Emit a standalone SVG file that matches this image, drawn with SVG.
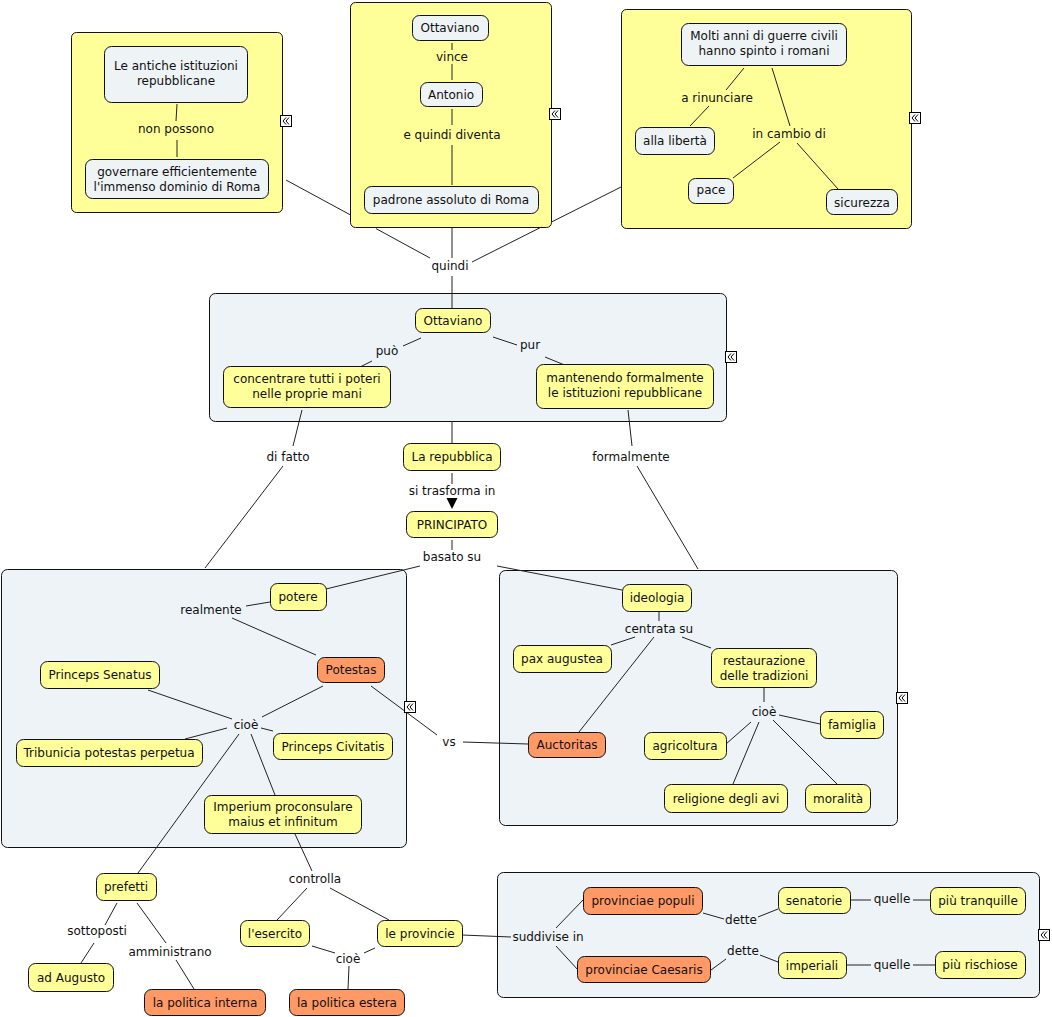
<svg xmlns="http://www.w3.org/2000/svg" width="1052" height="1017" viewBox="0 0 1052 1017">
<style>
text{font-family:"DejaVu Sans","Verdana",sans-serif;font-size:12px;fill:#111;text-anchor:middle}
.box{stroke:#111;stroke-width:1}
.yb{fill:#ffff99}
.bb{fill:#edf3f6}
.n{stroke:#111;stroke-width:1}
.y{fill:#ffff99}
.b{fill:#eef3f6}
.o{fill:#ff9966}
#connectors line{stroke:#222;stroke-width:1}
.ic rect{fill:#fff;stroke:#000;stroke-width:1}
.ic polyline{fill:none;stroke:#000;stroke-width:1}
</style>
<defs>
<g id="icon" class="ic"><rect x="0.5" y="0.5" width="11" height="11"/><polyline points="6,2.5 3,6 6,9.5"/><polyline points="9,2.5 6,6 9,9.5"/></g>
</defs>
<rect width="1052" height="1017" fill="#fff"/>
<g id="box-istituzioni"><rect class="box yb" x="71.5" y="32.5" width="211" height="180" rx="5"/></g>
<g id="box-ottaviano-vince"><rect class="box yb" x="350.5" y="2.5" width="201" height="225" rx="5"/></g>
<g id="box-guerre"><rect class="box yb" x="621.5" y="9.5" width="290" height="219" rx="5"/></g>
<g id="box-ottaviano"><rect class="box bb" x="209.5" y="293.5" width="517" height="128" rx="6"/></g>
<g id="box-potestas"><rect class="box bb" x="1.5" y="569.5" width="405" height="278" rx="6"/></g>
<g id="box-ideologia"><rect class="box bb" x="499.5" y="570.5" width="398" height="255" rx="6"/></g>
<g id="box-provinciae"><rect class="box bb" x="497.5" y="872.5" width="542" height="125" rx="6"/></g>
<g id="connectors">
<line x1="177" y1="104" x2="176" y2="121"/><line x1="177" y1="140" x2="177" y2="157"/>
<line x1="452" y1="43" x2="452" y2="50"/><line x1="452" y1="64" x2="452" y2="80"/>
<line x1="452" y1="109" x2="452" y2="125"/><line x1="452" y1="145" x2="452" y2="185"/>
<line x1="744" y1="68" x2="726" y2="90"/><line x1="709" y1="106" x2="690" y2="126"/>
<line x1="772" y1="68" x2="790" y2="126"/>
<line x1="780" y1="142" x2="733" y2="178"/>
<line x1="797" y1="143" x2="838" y2="189"/>
<line x1="286" y1="180" x2="350" y2="214.7"/><line x1="376" y1="228.6" x2="430" y2="258"/>
<line x1="621" y1="187" x2="551.5" y2="222"/><line x1="541.5" y1="227" x2="472" y2="262"/>
<line x1="452" y1="228" x2="452" y2="258"/>
<line x1="452" y1="276" x2="452" y2="308"/>
<line x1="421" y1="338" x2="403" y2="346"/><line x1="372" y1="361" x2="358" y2="368"/>
<line x1="493" y1="337" x2="517" y2="345"/><line x1="545" y1="357" x2="567" y2="366"/>
<line x1="302" y1="410" x2="293" y2="446"/><line x1="283" y1="466" x2="205" y2="568"/>
<line x1="628" y1="410" x2="632" y2="446"/><line x1="637" y1="466" x2="698" y2="569"/>
<line x1="452" y1="421" x2="452" y2="443"/>
<line x1="452" y1="473" x2="452" y2="484"/>
<polygon points="446.5,498 457.5,498 452,509" fill="#000"/>
<line x1="452" y1="540" x2="452" y2="550"/>
<line x1="420" y1="566" x2="326" y2="589"/>
<line x1="497" y1="566" x2="622" y2="590"/>
<line x1="246" y1="606" x2="270" y2="602"/><line x1="232" y1="618" x2="316" y2="655"/>
<line x1="148" y1="690" x2="232" y2="719"/>
<line x1="323" y1="686" x2="262" y2="717"/>
<line x1="227" y1="728" x2="185" y2="739"/>
<line x1="261" y1="728" x2="273" y2="731"/>
<line x1="251" y1="734" x2="275" y2="795"/>
<line x1="239" y1="734" x2="138" y2="873"/>
<line x1="371" y1="686" x2="437" y2="735"/><line x1="463" y1="742" x2="528" y2="744"/>
<line x1="659" y1="612" x2="659" y2="621"/>
<line x1="635" y1="637" x2="611" y2="645"/>
<line x1="682" y1="637" x2="711" y2="648"/>
<line x1="654" y1="637" x2="579" y2="732"/>
<line x1="764" y1="688" x2="764" y2="702"/>
<line x1="779" y1="715" x2="820" y2="724"/>
<line x1="751" y1="722" x2="726" y2="744"/>
<line x1="759" y1="722" x2="733" y2="784"/>
<line x1="773" y1="720" x2="837" y2="784"/>
<line x1="295" y1="834" x2="312" y2="871"/>
<line x1="307" y1="888" x2="277" y2="920"/>
<line x1="330" y1="888" x2="389" y2="920"/>
<line x1="312" y1="946" x2="335" y2="953"/><line x1="375" y1="948" x2="364" y2="953"/><line x1="349" y1="966" x2="348" y2="989"/>
<line x1="117" y1="903" x2="105" y2="925"/><line x1="94" y1="943" x2="81" y2="963"/>
<line x1="137" y1="903" x2="166" y2="943"/><line x1="176" y1="960" x2="194" y2="989"/>
<line x1="462" y1="935" x2="511" y2="937"/>
<line x1="556" y1="928" x2="583" y2="900"/><line x1="556" y1="946" x2="578" y2="970"/>
<line x1="703" y1="913" x2="724" y2="919"/><line x1="758" y1="917" x2="778" y2="909"/>
<line x1="850" y1="900" x2="871" y2="900"/><line x1="913" y1="900" x2="930" y2="900"/>
<line x1="711" y1="970" x2="726" y2="959"/><line x1="760" y1="955" x2="778" y2="962"/>
<line x1="846" y1="965" x2="871" y2="965"/><line x1="913" y1="965" x2="935" y2="965"/>
</g>
<g id="labels">
<text x="176" y="133">non possono</text>
<text x="452" y="61">vince</text>
<text x="452" y="139">e quindi diventa</text>
<text x="717" y="102">a rinunciare</text>
<text x="789" y="138">in cambio di</text>
<text x="450" y="270">quindi</text>
<text x="387" y="355">può</text>
<text x="530" y="349">pur</text>
<text x="288" y="461">di fatto</text>
<text x="631" y="461">formalmente</text>
<text x="452" y="495">si trasforma in</text>
<text x="452" y="561">basato su</text>
<text x="211" y="614">realmente</text>
<text x="246" y="729">cioè</text>
<text x="449" y="746">vs</text>
<text x="659" y="633">centrata su</text>
<text x="764" y="716">cioè</text>
<text x="315" y="883">controlla</text>
<text x="348" y="963">cioè</text>
<text x="97" y="935">sottoposti</text>
<text x="170" y="956">amministrano</text>
<text x="548" y="941">suddivise in</text>
<text x="741" y="924">dette</text>
<text x="743" y="955">dette</text>
<text x="892" y="903">quelle</text>
<text x="892" y="969">quelle</text>
</g>
<g id="n-antiche"><rect class="n b" x="104.5" y="46.5" width="143" height="56" rx="7"/><text x="176" y="70">Le antiche istituzioni</text><text x="176" y="85">repubblicane</text></g>
<g id="n-governare"><rect class="n b" x="85.5" y="159.5" width="183" height="39" rx="7"/><text x="177" y="176">governare efficientemente</text><text x="177" y="191">l'immenso dominio di Roma</text></g>
<g id="n-ottaviano1"><rect class="n b" x="412.5" y="15.5" width="76" height="25" rx="7"/><text x="450" y="32">Ottaviano</text></g>
<g id="n-antonio"><rect class="n b" x="420.5" y="82.5" width="62" height="24" rx="7"/><text x="451" y="98.5">Antonio</text></g>
<g id="n-padrone"><rect class="n b" x="364.5" y="186.5" width="174" height="27" rx="7"/><text x="451" y="204">padrone assoluto di Roma</text></g>
<g id="n-molti"><rect class="n b" x="681.5" y="23.5" width="165" height="42" rx="7"/><text x="764" y="40">Molti anni di guerre civili</text><text x="764" y="55">hanno spinto i romani</text></g>
<g id="n-liberta"><rect class="n b" x="635.5" y="127.5" width="79" height="27" rx="7"/><text x="675" y="145">alla libertà</text></g>
<g id="n-pace"><rect class="n b" x="688.5" y="178.5" width="45" height="25" rx="7"/><text x="711" y="193.5">pace</text></g>
<g id="n-sicurezza"><rect class="n b" x="826.5" y="189.5" width="71" height="25" rx="7"/><text x="862" y="206.5">sicurezza</text></g>
<g id="n-ottaviano2"><rect class="n y" x="415.5" y="308.5" width="75" height="24" rx="7"/><text x="453" y="324.5">Ottaviano</text></g>
<g id="n-concentrare"><rect class="n y" x="223.5" y="366.5" width="167" height="41" rx="7"/><text x="307" y="383">concentrare tutti i poteri</text><text x="307" y="398">nelle proprie mani</text></g>
<g id="n-mantenendo"><rect class="n y" x="536.5" y="364.5" width="177" height="44" rx="7"/><text x="625" y="382">mantenendo formalmente</text><text x="625" y="397">le istituzioni repubblicane</text></g>
<g id="n-repubblica"><rect class="n y" x="403.5" y="443.5" width="97" height="27" rx="7"/><text x="452" y="461">La repubblica</text></g>
<g id="n-principato"><rect class="n y" x="406.5" y="511.5" width="91" height="26" rx="7"/><text x="452" y="528.5">PRINCIPATO</text></g>
<g id="n-potere"><rect class="n y" x="270.5" y="583.5" width="56" height="27" rx="7"/><text x="298" y="601">potere</text></g>
<g id="n-potestas"><rect class="n o" x="317.5" y="657.5" width="67" height="25" rx="7"/><text x="351" y="674">Potestas</text></g>
<g id="n-senatus"><rect class="n y" x="40.5" y="661.5" width="119" height="27" rx="7"/><text x="100" y="679">Princeps Senatus</text></g>
<g id="n-tribunicia"><rect class="n y" x="16.5" y="739.5" width="186" height="27" rx="7"/><text x="109" y="757">Tribunicia potestas perpetua</text></g>
<g id="n-civitatis"><rect class="n y" x="273.5" y="733.5" width="119" height="26" rx="7"/><text x="333" y="750.5">Princeps Civitatis</text></g>
<g id="n-imperium"><rect class="n y" x="204.5" y="795.5" width="157" height="38" rx="7"/><text x="283" y="811">Imperium proconsulare</text><text x="283" y="826">maius et infinitum</text></g>
<g id="n-ideologia"><rect class="n y" x="622.5" y="584.5" width="69" height="27" rx="7"/><text x="657" y="602">ideologia</text></g>
<g id="n-pax"><rect class="n y" x="513.5" y="645.5" width="98" height="27" rx="7"/><text x="562" y="663">pax augustea</text></g>
<g id="n-restaurazione"><rect class="n y" x="711.5" y="648.5" width="105" height="39" rx="7"/><text x="764" y="665">restaurazione</text><text x="764" y="680">delle tradizioni</text></g>
<g id="n-famiglia"><rect class="n y" x="820.5" y="711.5" width="63" height="27" rx="7"/><text x="852" y="729">famiglia</text></g>
<g id="n-agricoltura"><rect class="n y" x="644.5" y="732.5" width="82" height="27" rx="7"/><text x="685" y="750">agricoltura</text></g>
<g id="n-religione"><rect class="n y" x="664.5" y="784.5" width="123" height="28" rx="7"/><text x="726" y="802.5">religione degli avi</text></g>
<g id="n-moralita"><rect class="n y" x="805.5" y="784.5" width="65" height="28" rx="7"/><text x="838" y="802.5">moralità</text></g>
<g id="n-auctoritas"><rect class="n o" x="528.5" y="732.5" width="77" height="25" rx="7"/><text x="567" y="749">Auctoritas</text></g>
<g id="n-prefetti"><rect class="n y" x="96.5" y="873.5" width="60" height="27" rx="7"/><text x="126" y="891">prefetti</text></g>
<g id="n-augusto"><rect class="n y" x="28.5" y="963.5" width="85" height="28" rx="7"/><text x="71" y="981.5">ad Augusto</text></g>
<g id="n-interna"><rect class="n o" x="144.5" y="989.5" width="121" height="26" rx="7"/><text x="205" y="1006.5">la politica interna</text></g>
<g id="n-esercito"><rect class="n y" x="240.5" y="920.5" width="69" height="26" rx="7"/><text x="275" y="937.5">l'esercito</text></g>
<g id="n-provincie"><rect class="n y" x="377.5" y="920.5" width="85" height="26" rx="7"/><text x="420" y="937.5">le provincie</text></g>
<g id="n-estera"><rect class="n o" x="289.5" y="989.5" width="115" height="26" rx="7"/><text x="347" y="1006.5">la politica estera</text></g>
<g id="n-populi"><rect class="n o" x="583.5" y="887.5" width="119" height="27" rx="7"/><text x="643" y="905">provinciae populi</text></g>
<g id="n-caesaris"><rect class="n o" x="577.5" y="956.5" width="133" height="26" rx="7"/><text x="644" y="973.5">provinciae Caesaris</text></g>
<g id="n-senatorie"><rect class="n y" x="778.5" y="887.5" width="72" height="26" rx="7"/><text x="814" y="904.5">senatorie</text></g>
<g id="n-imperiali"><rect class="n y" x="778.5" y="952.5" width="68" height="26" rx="7"/><text x="812" y="969.5">imperiali</text></g>
<g id="n-tranquille"><rect class="n y" x="930.5" y="887.5" width="95" height="27" rx="7"/><text x="978" y="905">più tranquille</text></g>
<g id="n-rischiose"><rect class="n y" x="935.5" y="951.5" width="90" height="27" rx="7"/><text x="980" y="969">più rischiose</text></g>
<g id="collapse-icons">
<use href="#icon" x="280" y="115"/>
<use href="#icon" x="549" y="108"/>
<use href="#icon" x="909" y="112"/>
<use href="#icon" x="725" y="351"/>
<use href="#icon" x="404" y="701"/>
<use href="#icon" x="896" y="692"/>
<use href="#icon" x="1038" y="929"/>
</g>
</svg>
